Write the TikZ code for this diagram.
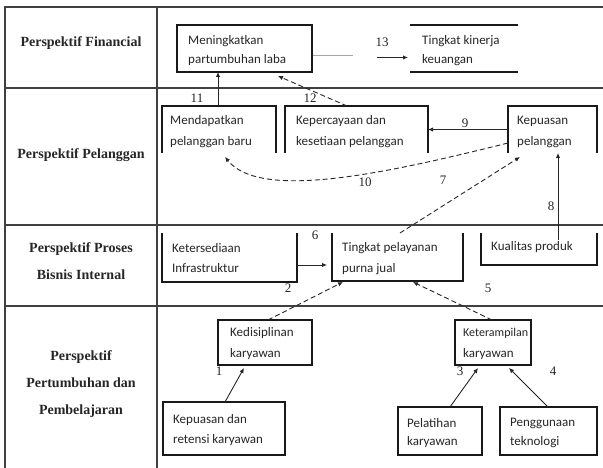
\documentclass[tikz,border=0pt]{standalone}
\usepackage{fontspec}
\setmainfont{Carlito}
\newfontfamily\lblfont{Liberation Serif}
\usetikzlibrary{arrows.meta}
\begin{document}
\begin{tikzpicture}[x=1pt,y=-1pt,
  tline/.style={draw=black!75, line width=1.3pt},
  bline/.style={draw=black!90, line width=1.1pt},
  box/.style={inner sep=0pt, outer sep=0pt},
  txt/.style={anchor=west, font=\fontsize{13}{15}\selectfont, inner sep=0pt, text=black!85},
  lbl/.style={font=\lblfont\bfseries\fontsize{14}{27}\selectfont, align=center, text=black!85, inner sep=0pt},
  num/.style={font=\lblfont\fontsize{13}{15}\selectfont, inner sep=0pt, text=black!85},
  arr/.style={-{Latex[length=5pt,width=4.5pt]}, line width=0.9pt, draw=black!85},
  dsh/.style={arr, dash pattern=on 5pt off 3pt},
]
\useasboundingbox (0,0) rectangle (603,468);
\fill[white] (0,0) rectangle (603,468);
% table
\draw[tline] (603,7) -- (5,7) -- (5,468);
\draw[tline] (157,7) -- (157,468);
\draw[tline] (5,88) -- (603,88);
\draw[tline] (5,225) -- (603,225);
\draw[tline] (5,306) -- (603,306);
% row labels
\node[lbl] (l1) at (81,43) {Perspektif Financial};
\node[lbl] (l2) at (81,155) {Perspektif Pelanggan};
\node[lbl] (l3) at (81,261) {Perspektif Proses\\Bisnis Internal};
\node[lbl] (l4) at (81,384) {Perspektif\\Pertumbuhan dan\\Pembelajaran};
% boxes (geometry)
\node[box, minimum width=135pt, minimum height=47pt] (mening) at (244.5,48.5) {};
\node[box, minimum width=108pt, minimum height=47pt] (tk) at (464,48.5) {};
\node[box, minimum width=114pt, minimum height=47pt] (mendap) at (219,129.5) {};
\node[box, minimum width=143pt, minimum height=47pt] (keperc) at (356.5,129.5) {};
\node[box, minimum width=89pt, minimum height=47pt] (kepuas) at (552.5,129.5) {};
\node[box, minimum width=135pt, minimum height=49pt] (keters) at (229.5,257.5) {};
\node[box, minimum width=131pt, minimum height=48pt] (tpel) at (397.5,257) {};
\node[box, minimum width=116pt, minimum height=32pt] (kual) at (539,249) {};
\node[box, minimum width=94pt, minimum height=45pt] (kedis) at (265,342.5) {};
\node[box, minimum width=76pt, minimum height=45pt] (ketr) at (493,342.5) {};
\node[box, minimum width=122pt, minimum height=53pt] (kepret) at (224,428.5) {};
\node[box, minimum width=84pt, minimum height=48pt] (pelat) at (440,431) {};
\node[box, minimum width=97pt, minimum height=48pt] (pengg) at (548.5,431) {};
% visible outlines
\draw[bline] (mening.north west) rectangle (mening.south east);
\draw[bline] (tk.north west) -- (tk.north east) (tk.south west) -- (tk.south east);
\draw[bline] (mendap.south west) -- (mendap.north west) -- (mendap.north east) -- (mendap.south east);
\draw[bline] (keperc.south west) -- (keperc.north west) -- (keperc.north east) -- (keperc.south east);
\draw[bline] (kepuas.south west) -- (kepuas.north west) -- (kepuas.north east) -- (kepuas.south east);
\draw[bline] (keters.north west) -- (keters.south west) -- (keters.south east) -- (keters.north east);
\draw[bline] (tpel.north west) -- (tpel.south west) -- (tpel.south east) -- (tpel.north east);
\draw[bline] (kual.north west) -- (kual.south west) -- (kual.south east) -- (kual.north east);
\draw[bline] (kedis.north west) rectangle (kedis.south east);
\draw[bline] (ketr.north west) rectangle (ketr.south east);
\draw[bline] (kepret.north west) rectangle (kepret.south east);
\draw[bline] (pelat.north west) rectangle (pelat.south east);
\draw[bline] (pengg.north west) rectangle (pengg.south east);
% texts
\node[txt] (t1) at (188,41) {Meningkatkan};
\node[txt] (t2) at (188,60) {partumbuhan laba};
\node[txt] (t3) at (422,41) {Tingkat kinerja};
\node[txt] (t4) at (422,60) {keuangan};
\node[txt] (t5) at (170,121) {Mendapatkan};
\node[txt] (t6) at (170,142) {pelanggan baru};
\node[txt] (t7) at (296,121) {Kepercayaan dan};
\node[txt] (t8) at (296,142) {kesetiaan pelanggan};
\node[txt] (t9) at (517,121) {Kepuasan};
\node[txt] (t10) at (517,142) {pelanggan};
\node[txt] (t11) at (172,248) {Ketersediaan};
\node[txt] (t12) at (172,268) {Infrastruktur};
\node[txt] (t13) at (342,248) {Tingkat pelayanan};
\node[txt] (t14) at (342,269) {purna jual};
\node[txt] (t15) at (491,247) {Kualitas produk};
\node[txt] (t16) at (230,333) {Kedisiplinan};
\node[txt] (t17) at (230,354) {karyawan};
\node[txt, font=\fontsize{12}{14}\selectfont] (t18) at (463,333) {Keterampilan};
\node[txt] (t19) at (463,354) {karyawan};
\node[txt] (t20) at (173,420) {Kepuasan dan};
\node[txt] (t21) at (173,440) {retensi karyawan};
\node[txt] (t22) at (407,423) {Pelatihan};
\node[txt] (t23) at (407,442) {karyawan};
\node[txt] (t24) at (510,423) {Penggunaan};
\node[txt] (t25) at (510,442) {teknologi};
% numbers
\node[num] (n11) at (197,98) {11};
\node[num] (n12) at (310,98) {12};
\node[num] (n13) at (382,42) {13};
\node[num] (n9) at (465,123) {9};
\node[num] (n10) at (365,182) {10};
\node[num] (n7) at (443,180) {7};
\node[num] (n8) at (551,206) {8};
\node[num] (n6) at (315,235) {6};
\node[num] (n2) at (288,288) {2};
\node[num] (n5) at (488,288) {5};
\node[num] (n1) at (219,371) {1};
\node[num] (n3) at (460,371) {3};
\node[num] (n4) at (553,371) {4};
% connectors
\draw[arr] ([xshift=56pt]mendap.north west) -- ([xshift=41pt]mening.south west);
\draw[dsh] ([xshift=62pt]keperc.north west) -- ([xshift=101pt,yshift=-4pt]mening.south west);
\draw[black!35, line width=0.8pt] ([shift={(1pt,-7pt)}]mening.east) -- ([shift={(41pt,-7pt)}]mening.east);
\draw[arr] ([shift={(-33pt,-9pt)}]tk.west) -- ([shift={(-2pt,-9pt)}]tk.west);
\draw[arr] (kepuas.west) -- (keperc.east);
\draw[dsh] ([yshift=-13.5pt]kepuas.west) .. controls (380,175) and (260,200) .. ([shift={(63pt,-4pt)}]mendap.south west);
\draw[dsh] ([xshift=68pt]tpel.north west) -- ([shift={(12pt,-4pt)}]kepuas.south west);
\draw[arr] ([xshift=77pt,yshift=-7pt]kual.north west) -- ([xshift=50pt]kepuas.south west);
\draw[arr] ([yshift=-7.5pt]keters.east) -- ([shift={(-5pt,-8pt)}]tpel.west);
\draw[dsh] ([xshift=50pt]kedis.north west) -- ([xshift=11pt,yshift=-1pt]tpel.south west);
\draw[dsh] ([xshift=37pt]ketr.north west) -- ([xshift=81pt,yshift=-1pt]tpel.south west);
\draw[arr] ([xshift=62pt]kepret.north west) -- ([xshift=26pt,yshift=-3pt]kedis.south west);
\draw[arr] ([xshift=52pt]pelat.north west) -- ([xshift=23pt,yshift=-3pt]ketr.south west);
\draw[arr] ([xshift=48pt]pengg.north west) -- ([xshift=54pt,yshift=-3pt]ketr.south west);
\end{tikzpicture}
\end{document}
